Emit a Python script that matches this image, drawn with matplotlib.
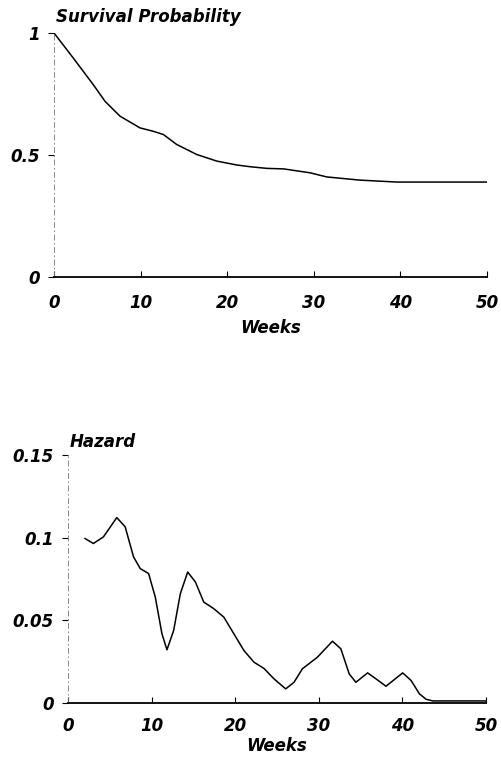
import matplotlib.pyplot as plt

# survival curve
surv_weeks = [0, 2.23, 4.54, 5.89, 7.62, 9.93, 11.47, 12.62, 14.17, 16.48, 18.79, 21.1,
              22.6, 24.6, 26.5, 29.56, 31.5, 35.3, 39.6, 50]
surv_prob = [1.0, 0.897, 0.788, 0.72, 0.659, 0.611, 0.597, 0.584, 0.543, 0.502, 0.475, 0.459,
             0.452, 0.445, 0.443, 0.427, 0.41, 0.397, 0.389, 0.389]

# hazard curve
haz_weeks = [2.04, 3.04, 4.24, 5.84, 6.84, 7.84, 8.64, 9.64, 10.44, 11.24, 11.84, 12.64, 13.44,
             14.32, 15.24, 16.24, 17.44, 18.64, 19.84, 21.04, 22.24, 23.44, 24.64, 26.04, 27.04,
             28.04, 29.84, 31.64, 32.64, 33.64, 34.44, 35.84, 36.84, 38.04, 40.04, 41.04, 42.04,
             42.84, 43.64, 50]
haz_vals = [0.0994, 0.0964, 0.1004, 0.1121, 0.1065, 0.0883, 0.0812, 0.0782, 0.064, 0.0417, 0.032,
            0.0437, 0.066, 0.0791, 0.0731, 0.0609, 0.0569, 0.0518, 0.0417, 0.0316, 0.0245, 0.0207,
            0.0144, 0.0083, 0.0123, 0.0205, 0.0275, 0.0372, 0.0326, 0.0174, 0.0123, 0.018, 0.0144,
            0.0099, 0.018, 0.0134, 0.0053, 0.002, 0.001, 0.001]

x_ticks = [0, 10, 20, 30, 40, 50]

plt.rcParams['font.family'] = ['DejaVu Sans']

fig = plt.figure(figsize=(5.01, 7.58), dpi=100)
ax1 = fig.add_axes([0.1078, 0.6346, 0.8642, 0.3219])
ax2 = fig.add_axes([0.1357, 0.0731, 0.8343, 0.3266])

font = dict(style='oblique', weight='bold', size=12)


def style_axes(ax, yticks, ylabels, title, title_y, xpad, lpad):
    ax.set_xlim(0, 50)
    ax.set_ylim(0, yticks[-1])
    for s in ['top', 'right']:
        ax.spines[s].set_visible(False)
    ax.spines['left'].set_linestyle((0, (6, 4, 1, 4)))
    ax.spines['left'].set_linewidth(0.6)
    ax.spines['left'].set_color('#777777')
    ax.spines['bottom'].set_linewidth(1.3)
    ax.set_xticks(x_ticks)
    ax.set_xticklabels([str(t) for t in x_ticks], **font)
    ax.set_yticks(yticks)
    ax.set_yticklabels(ylabels, **font)
    ax.tick_params(axis='x', direction='in', length=4, width=0.8, pad=xpad)
    ax.tick_params(axis='y', direction='out', length=4, width=0.8, pad=6)
    ax.set_xlabel('Weeks', labelpad=lpad, **font)
    ax.text(0.005, title_y, title, transform=ax.transAxes, ha='left', va='bottom', **font)


ax1.plot(surv_weeks, surv_prob, color='black', lw=1.1)
style_axes(ax1, [0, 0.5, 1], ['0', '0.5', '1'], 'Survival Probability', 1.03, 12.5, 4.5)

ax2.plot(haz_weeks, haz_vals, color='black', lw=1.1)
style_axes(ax2, [0, 0.05, 0.1, 0.15], ['0', '0.05', '0.1', '0.15'], 'Hazard', 1.015, 10.5, 1.5)

fig.savefig('out.png', dpi=100)
